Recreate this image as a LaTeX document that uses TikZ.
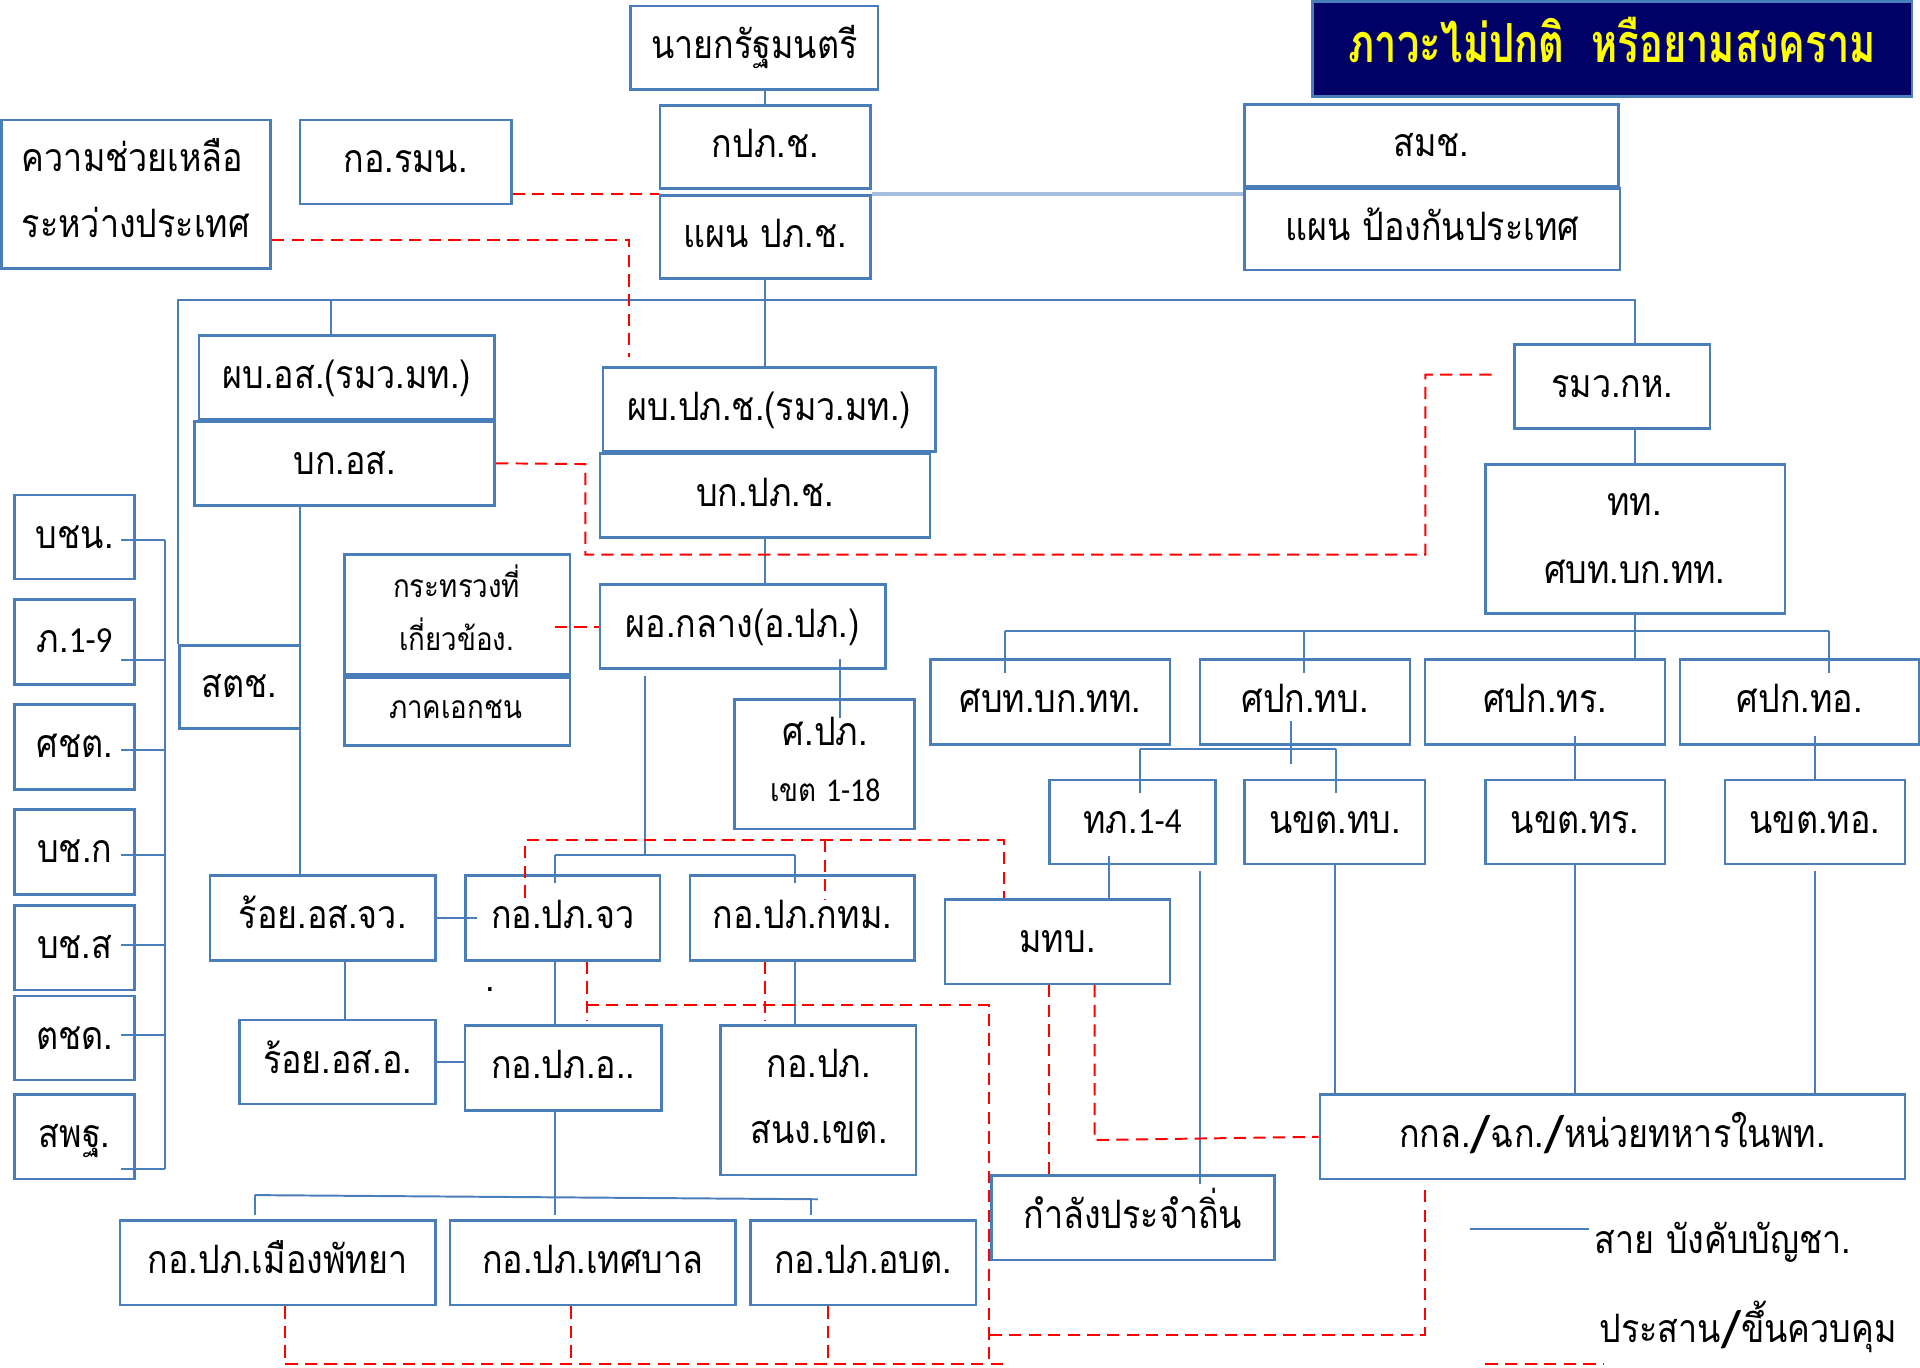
\documentclass[tikz,border=0pt]{standalone}
\usepackage{fontspec}
\newfontfamily\thai[Script=Thai, FakeStretch=0.87]{Loma}
\newfontfamily\ttlfont[Script=Thai, FakeStretch=0.74]{Loma}
\newfontfamily\lat[FakeStretch=0.9]{Carlito}
\newcommand\slh{{\lat\bfseries\fontsize{21}{21}\selectfont\raisebox{-1.5pt}{/}}}
\usetikzlibrary{fit,calc}
\definecolor{bxc}{HTML}{4A7EBB}
\definecolor{navy}{HTML}{000066}
\definecolor{lite}{HTML}{A6BEE0}
\definecolor{ttl}{HTML}{FFFF00}
\newcommand\mybox[6]{%
  \coordinate (#1-a) at (#2,#3);
  \coordinate (#1-b) at (#4,#5);
  \node[bx, fit=(#1-a)(#1-b)] (#1) {};
  \node[lbl] (#1-t) at (#1.center) {#6};}
\begin{document}
\begin{tikzpicture}[x=0.5pt,y=-0.5pt,
  bx/.style={draw=bxc, line width=1.1pt, inner sep=0pt},
  tx/.style={font=\thai\fontsize{16}{19}\selectfont, inner sep=0pt, anchor=base},
  sm/.style={tx, font=\thai\fontsize{13}{16}\selectfont},
  lbl/.style={tx, yshift=-4.5pt},
  cn/.style={draw=bxc, line width=0.8pt},
  lt/.style={draw=lite, line width=1.4pt},
  rd/.style={draw=red, line width=0.8pt, dash pattern=on 5pt off 3pt}]
\useasboundingbox (0,0) rectangle (1568,1117.2);
% helper coordinates
\foreach \v in {98,135,208,233,245,270,282,429,453,466,478,479,514,527,625,649,662,674,676,686,808,819,820,821,857,894,906,931,980,1054,1065,1090,1091,1164,1286,1335,1482,1494}
  {\coordinate (X\v) at (\v,0);}
\foreach \v in {196,245,306,379,453,515,612,686,698,733,735,821,835,931,976,979,992,1090,1114}
  {\coordinate (Y\v) at (0,\v);}
% boxes
\mybox{pm}{515}{5}{717}{73}{นายกรัฐมนตรี}
\mybox{kpp}{539}{86}{711}{154}{กปภ.ช.}
\mybox{plan}{539}{159.5}{711}{227.5}{แผน ปภ.ช.}
\mybox{aid}{1}{98}{221}{219}{}
\node[tx, anchor=base west] (aid-t1) at (17.5,140) {ความช่วยเหลือ};
\node[tx, anchor=base west] (aid-t2) at (17.5,194) {ระหว่างประเทศ};
\mybox{isoc}{245}{98}{417.5}{166.5}{กอ.รมน.}
\coordinate (title-a) at (1072,1.5);
\coordinate (title-b) at (1561.5,78.7);
\node[bx, fill=navy, fit=(title-a)(title-b)] (title) {};
\node[tx, font=\ttlfont\bfseries\fontsize{22}{26}\selectfont, text=ttl] (title-t) at (1316.5,51) {ภาวะไม่ปกติ\ \ หรือยามสงคราม};
\mybox{smc}{1016.5}{85.5}{1321.5}{152}{สมช.}
\mybox{defplan}{1016.5}{154}{1323}{220.5}{แผน ป้องกันประเทศ}
\mybox{dirvol}{162.5}{274}{404}{342.7}{ผบ.อส.(รมว.มท.)}
\mybox{hqvol}{159}{344}{404}{412.7}{บก.อส.}
\mybox{dirdp}{492.5}{300.4}{763.7}{369}{ผบ.ปภ.ช.(รมว.มท.)}
\mybox{hqdp}{490}{370.4}{759.6}{439}{บก.ปภ.ช.}
\mybox{mod}{1237}{281.4}{1396.5}{350}{รมว.กห.}
\mybox{sup}{1213}{379.2}{1457.7}{501}{}
\node[tx] (sup-t1) at (1335,421) {ทท.};
\node[tx] (sup-t2) at (1335,476.6) {ศบท.บก.ทท.};
\mybox{min}{281.6}{453}{465.5}{551}{}
\node[sm] (min-t1) at (373,488) {กระทรวงที่};
\node[sm] (min-t2) at (373,531) {เกี่ยวข้อง.};
\mybox{priv}{281.6}{553.3}{465.5}{609}{}
\node[sm] (priv-t1) at (372,587) {ภาคเอกชน};
\mybox{police}{146.5}{527}{245}{595}{สตช.}
\mybox{cent}{490}{477.4}{723}{546}{ผอ.กลาง(อ.ปภ.)}
\mybox{zone}{600}{571.4}{747}{677}{}
\node[tx] (zone-t1) at (674,609) {ศ.ปภ.};
\node[sm] (zone-t2) at (674,654.5) {เขต {\lat\fontsize{13.5}{16}\selectfont 1-18}};
\mybox{l1}{12}{404.3}{110}{472.8}{บชน.}
\mybox{l2}{12}{489.7}{110}{558.8}{ภ.{\lat\fontsize{15}{18}\selectfont 1-9}}
\mybox{l3}{12}{575.5}{110}{644.5}{ศชต.}
\mybox{l4}{12}{661.2}{110}{730.3}{บช.ก}
\mybox{l5}{12}{739.7}{110}{808.5}{บช.ส}
\mybox{l6}{12}{813.4}{110}{882}{ตชด.}
\mybox{l7}{12}{894}{110}{962.8}{สพฐ.}
\mybox{rvp}{171.5}{715}{355.6}{784.3}{ร้อย.อส.จว.}
\mybox{dpp}{380}{715}{539}{784.3}{กอ.ปภ.จว}
\mybox{bkk}{563.6}{715}{747}{784.3}{กอ.ปภ.กทม.}
\mybox{rvd}{195.8}{833}{355.4}{901.6}{ร้อย.อส.อ.}
\mybox{dpd}{379.8}{837.6}{540}{906.7}{กอ.ปภ.อ..}
\mybox{dist}{588.4}{837.6}{748}{959.6}{}
\node[tx] (dist-t1) at (668.5,879.6) {กอ.ปภ.};
\node[tx] (dist-t2) at (669,933.6) {สนง.เขต.};
\mybox{pat}{97.9}{996.6}{355.4}{1065.7}{กอ.ปภ.เมืองพัทยา}
\mybox{mun}{367.6}{996.6}{600.7}{1065.7}{กอ.ปภ.เทศบาล}
\mybox{sao}{613}{996.6}{797}{1065.7}{กอ.ปภ.อบต.}
\mybox{m1}{760}{538.7}{955.5}{607.8}{ศบท.บก.ทท.}
\mybox{m2}{980}{538.7}{1151.5}{607.8}{ศปก.ทบ.}
\mybox{m3}{1163.8}{538.7}{1359.7}{607.8}{ศปก.ทร.}
\mybox{m4}{1372}{538.7}{1567.4}{607.8}{ศปก.ทอ.}
\mybox{a1}{857}{637}{992.7}{705.6}{ทภ.{\lat\fontsize{15}{18}\selectfont 1-4}}
\mybox{a2}{1016.6}{637}{1163.8}{705.6}{นขต.ทบ.}
\mybox{a3}{1213}{637}{1359.7}{705.6}{นขต.ทร.}
\mybox{a4}{1408.7}{637}{1555.7}{705.6}{นขต.ทอ.}
\mybox{mtb}{771.7}{734.7}{955.5}{803.5}{มทบ.}
\mybox{kkl}{1078}{894}{1555.7}{962.8}{กกล.\slh ฉก.\slh หน่วยทหารในพท.}
\mybox{local}{809.5}{960}{1041}{1029}{กำลังประจำถิ่น}
\node[tx] (dot) at (400,810) {.};
% legend
\coordinate (lg1a) at (1200.5,1004);
\coordinate (lg1b) at (1298,1004);
\draw[cn] (lg1a) -- (lg1b);
\node[tx, anchor=base west] (lg1t) at (1302,1023.5) {สาย บังคับบัญชา.};
\coordinate (lg2a) at (1213,1114);
\coordinate (lg2b) at (1310,1114);
\draw[rd] (lg2a) -- (lg2b);
\node[tx, anchor=base west] (lg2t) at (1306,1096.5) {ประสาน\slh ขึ้นควบคุม};
% blue connectors
\draw[cn] (kpp.north |- pm.south) -- (kpp.north);
\draw[lt] (plan.north east) -- (plan.north east -| defplan.west);
\draw[cn] (plan.south) -- (plan.south |- dirdp.north);
\draw[cn] (police.north west) |- (X1335 |- Y245) -- (X1335 |- mod.north);
\draw[cn] (X270 |- Y245) -- (X270 |- dirvol.north);
\draw[cn] (X245 |- hqvol.south) -- (X245 |- rvp.north);
\draw[cn] (hqdp.south) -- (hqdp.south |- cent.north);
\draw[cn, shorten <=-4.5pt, shorten >=-8pt] (X686 |- cent.south) -- (X686 |- zone.north);
\draw[cn, shorten <=2.5pt] (X527 |- cent.south) -- (X527 |- Y698);
\draw[cn] (X453 |- Y698) -- (X649 |- Y698);
\draw[cn, shorten >=-3.5pt] (X453 |- Y698) -- (X453 |- dpp.north);
\draw[cn, shorten >=-3.5pt] (X649 |- Y698) -- (X649 |- bkk.north);
\draw[cn, shorten >=-5.5pt] (rvp.east) -- (rvp.east -| dpp.west);
\draw[cn] (X282 |- rvp.south) -- (X282 |- rvd.north);
\draw[cn] (rvd.east) -- (rvd.east -| dpd.west);
\draw[cn] (X453 |- dpp.south) -- (X453 |- dpd.north);
\draw[cn] (X649 |- bkk.south) -- (X649 |- dist.north);
\draw[cn] (X453 |- dpd.south) -- (X453 |- Y992);
\coordinate (bus1) at (208,976);
\coordinate (bus2) at (668,979.4);
\coordinate (bus3) at (662,979.3);
\draw[cn] (bus1) -- (bus2);
\draw[cn] (bus1) -- (X208 |- Y992);
\draw[cn] (bus3) -- (X662 |- Y992);
% left column
\foreach \n/\y in {1/441,2/539,3/612.5,4/698,5/772,6/845,7/955}
  {\coordinate (T\n) at (135,\y);
   \draw[cn, shorten <=-6pt] (T\n -| l\n.east) -- (T\n);}
\draw[cn] (T1) -- (T7);
% military
\draw[cn] (mod.south -| sup.north) -- (sup.north);
\draw[cn] (sup.south) -- (sup.south |- m3.north);
\draw[cn] (X821 |- Y515) -- (X1494 |- Y515);
\draw[cn, shorten >=-6pt] (X821 |- Y515) -- (X821 |- m1.north);
\draw[cn, shorten >=-6pt] (X1065 |- Y515) -- (X1065 |- m2.north);
\draw[cn, shorten >=-6pt] (X1494 |- Y515) -- (X1494 |- m4.north);
\draw[cn, shorten <=-10pt, shorten >=-6pt] (X1054 |- m2.south) -- (X1054 |- Y612);
\draw[cn] (X931 |- Y612) -- (X1091 |- Y612);
\draw[cn, shorten >=-6pt] (X931 |- Y612) -- (X931 |- a1.north);
\draw[cn, shorten >=-6pt] (X1091 |- Y612) -- (X1091 |- a2.north);
\draw[cn, shorten <=-4pt] (X1286 |- m3.south) -- (X1286 |- a3.north);
\draw[cn, shorten <=-4pt] (X1482 |- m4.south) -- (X1482 |- a4.north);
\draw[cn, shorten <=-4pt] (X906 |- a1.south) -- (X906 |- mtb.north);
\draw[cn, shorten <=2.5pt, shorten >=-4pt] (X980 |- a1.south) -- (X980 |- local.north);
\draw[cn] (X1090 |- a2.south) -- (X1090 |- kkl.north);
\draw[cn] (X1286 |- a3.south) -- (X1286 |- kkl.north);
\draw[cn, shorten <=2.5pt] (X1482 |- a4.south) -- (X1482 |- kkl.north);
% red dashed
\draw[rd] (isoc.south east |- plan.north west) -- (plan.north west);
\draw[rd, shorten >=3.7pt] (aid.east |- Y196) -| (X514 |- dirdp.north);
\draw[rd, shorten >=6.5pt] (hqvol.east) -- (X478 |- Y379) -- (X478 |- Y453) -- (X1164 |- Y453) -- (X1164 |- Y306) -- (mod.west |- Y306);
\draw[rd] (X453 |- cent.west) -- (cent.west);
\draw[rd] (X429 |- Y733) -- (X429 |- Y686) -- (X820 |- Y686) -- (X820 |- mtb.north);
\draw[rd] (X674 |- Y686) -- (X674 |- Y735);
\draw[rd, shorten >=1.3pt] (X479 |- dpp.south) -- (X479 |- dpd.north);
\draw[rd] (X479 |- Y821) -- (X808 |- Y821) -- (X808 |- Y1114);
\draw[rd, shorten >=1.3pt] (X625 |- bkk.south) -- (X625 |- dist.north);
\draw[rd] (X233 |- Y1114) -- (X819 |- Y1114);
\draw[rd] (X233 |- pat.south) -- (X233 |- Y1114);
\draw[rd] (X466 |- mun.south) -- (X466 |- Y1114);
\draw[rd] (X676 |- sao.south) -- (X676 |- Y1114);
\draw[rd, shorten >=3.3pt] (X808 |- Y1090) -- (X1164 |- Y1090) -- (X1164 |- kkl.south);
\draw[rd] (X894 |- mtb.south) -- (X894 |- Y931) -- (kkl.west);
\draw[rd] (X857 |- mtb.south) -- (X857 |- local.north);
\end{tikzpicture}
\end{document}
